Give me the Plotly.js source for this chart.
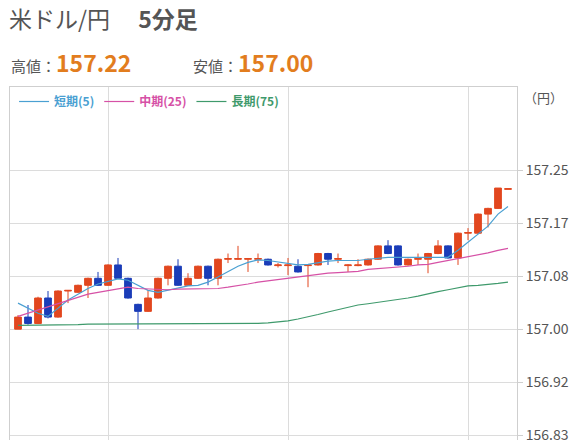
<!DOCTYPE html>
<html><head><meta charset="utf-8">
<script src="https://cdn.plot.ly/plotly-3.0.1.min.js"></script>
<style>html,body{margin:0;padding:0;overflow:hidden;background:#fff}#c{width:576px;height:470px}</style>
</head><body><div id="c"></div>
<script>
const openP = [157.000,157.019,157.009,157.049,157.019,157.060,157.058,157.069,157.080,157.069,
157.101,157.080,157.039,157.028,157.049,157.080,157.099,157.069,157.080,157.099,
157.080,157.110,157.110,157.110,157.110,157.110,157.100,157.100,157.099,157.100,
157.101,157.119,157.110,157.100,157.100,157.101,157.110,157.131,157.131,157.101,
157.110,157.110,157.119,157.131,157.112,157.151,157.151,157.181,157.190,157.220];
const highP = [157.022,157.038,157.051,157.060,157.061,157.061,157.070,157.081,157.090,157.102,
157.112,157.081,157.040,157.061,157.081,157.100,157.110,157.088,157.100,157.100,
157.111,157.119,157.131,157.112,157.119,157.111,157.104,157.112,157.110,157.102,
157.120,157.120,157.119,157.102,157.110,157.111,157.132,157.140,157.132,157.111,
157.119,157.120,157.140,157.132,157.152,157.159,157.182,157.191,157.222,157.221];
const lowP = [157.000,157.007,157.008,157.017,157.018,157.041,157.057,157.049,157.068,157.068,
157.079,157.048,157.000,157.027,157.048,157.069,157.068,157.068,157.079,157.069,
157.069,157.104,157.109,157.090,157.104,157.100,157.097,157.085,157.089,157.066,
157.100,157.101,157.104,157.090,157.099,157.100,157.109,157.118,157.100,157.100,
157.101,157.088,157.118,157.111,157.101,157.140,157.150,157.160,157.189,157.220];
const closeP = [157.019,157.009,157.049,157.019,157.060,157.061,157.069,157.080,157.069,157.101,
157.080,157.049,157.028,157.049,157.080,157.099,157.069,157.080,157.099,157.080,
157.110,157.111,157.111,157.111,157.111,157.101,157.101,157.101,157.090,157.101,
157.119,157.110,157.111,157.101,157.101,157.110,157.131,157.119,157.101,157.110,
157.111,157.119,157.131,157.112,157.151,157.152,157.181,157.190,157.222,157.221];
const maShort = [157.041,157.033,157.025,157.020,157.033,157.046,157.055,157.064,157.071,157.075,
157.079,157.077,157.069,157.061,157.058,157.061,157.064,157.068,157.069,157.074,
157.082,157.091,157.099,157.105,157.109,157.108,157.106,157.104,157.101,157.102,
157.105,157.107,157.108,157.108,157.108,157.110,157.112,157.113,157.113,157.113,
157.112,157.112,157.112,157.113,157.124,157.137,157.149,157.162,157.181,157.193];
const maMid = [157.020,157.025,157.030,157.035,157.041,157.046,157.050,157.055,157.058,157.061,
157.064,157.066,157.064,157.063,157.062,157.062,157.063,157.063,157.063,157.063,
157.064,157.066,157.068,157.071,157.074,157.076,157.079,157.080,157.083,157.085,
157.086,157.088,157.089,157.090,157.091,157.094,157.095,157.097,157.097,157.099,
157.101,157.102,157.105,157.108,157.110,157.113,157.116,157.120,157.124,157.127];
const maLong = [157.006,157.006,157.006,157.006,157.006,157.007,157.007,157.008,157.008,157.009,
157.009,157.009,157.008,157.008,157.008,157.008,157.008,157.008,157.008,157.008,
157.008,157.008,157.009,157.009,157.009,157.010,157.011,157.013,157.016,157.019,
157.023,157.027,157.031,157.035,157.038,157.040,157.042,157.044,157.046,157.049,
157.052,157.056,157.059,157.062,157.065,157.068,157.069,157.070,157.072,157.074];
const seriesNames = ["短期(5)", "中期(25)", "長期(75)"];
const tickVals = [156.8333, 156.9167, 157.0, 157.0833, 157.1667, 157.25];
const tickText = ["156.83", "156.92", "157.00", "157.08", "157.17", "157.25"];
const highLabel = "157.22";
const lowLabel = "157.00";

const xs = openP.map((_, i) => i + 1);
const F = '"Noto Sans CJK JP", "Noto Sans", sans-serif';
const cShort = '#4aa0d2', cMid = '#d651a6', cLong = '#3f9a6c';

const data = [
  {type:'candlestick', x:xs, open:openP, high:highP, low:lowP, close:closeP,
   increasing:{line:{color:'#e2471f', width:1}, fillcolor:'#e2471f'},
   decreasing:{line:{color:'#1b3db8', width:1}, fillcolor:'#1b3db8'},
   whiskerwidth:0, showlegend:false, hoverinfo:'skip'},
  {type:'scatter', mode:'lines', x:xs, y:maShort, line:{color:cShort, width:1.2},
   name:'<span style="color:'+cShort+'">'+seriesNames[0]+'</span>'},
  {type:'scatter', mode:'lines', x:xs, y:maMid, line:{color:cMid, width:1.2},
   name:'<span style="color:'+cMid+'">'+seriesNames[1]+'</span>'},
  {type:'scatter', mode:'lines', x:xs, y:maLong, line:{color:cLong, width:1.2},
   name:'<span style="color:'+cLong+'">'+seriesNames[2]+'</span>'}
];

const layout = {
  width:576, height:470,
  margin:{l:10, r:59, t:87, b:15},
  paper_bgcolor:'#fff', plot_bgcolor:'#fff',
  font:{family:F, color:'#555'},
  boxgap:0.25, boxgroupgap:0.1,
  title:{text:'米ドル/円　 <b>5分足</b>', x:9/576, xanchor:'left', xref:'container',
         y:1-20/470, yanchor:'middle', yref:'container',
         font:{family:F, size:23, color:'#555'}},
  showlegend:true,
  legend:{orientation:'h', x:0.008, xanchor:'left', y:1, yanchor:'top',
          bgcolor:'rgba(255,255,255,0)', font:{family:F, size:12, weight:'bold'},
          tracegroupgap:0, itemwidth:30},
  xaxis:{range:[0.2, 50.9], tickvals:[10, 28, 46], showticklabels:false, ticks:'',
         showgrid:true, gridcolor:'#dcdcdc', gridwidth:1, zeroline:false,
         showline:true, linecolor:'#cfcfcf', linewidth:1, mirror:true,
         rangeslider:{visible:false}, fixedrange:true},
  yaxis:{range:[156.802, 157.381], side:'right', tickvals:tickVals, ticktext:tickText,
         ticks:'outside', ticklen:5, tickcolor:'#cfcfcf',
         tickfont:{family:F, size:14, color:'#555'},
         showgrid:true, gridcolor:'#dcdcdc', gridwidth:1, zeroline:false,
         showline:true, linecolor:'#cfcfcf', linewidth:1, mirror:true, fixedrange:true},
  annotations:[
    {xref:'paper', yref:'paper', x:(9-10)/507, y:1+(87-62)/368, xanchor:'left', yanchor:'middle',
     showarrow:false, font:{family:F, size:15, color:'#555'},
     text:'高値：<span style="font-size:23px;color:#e27d1e;font-weight:bold">'+highLabel+'</span>'},
    {xref:'paper', yref:'paper', x:(191-10)/507, y:1+(87-62)/368, xanchor:'left', yanchor:'middle',
     showarrow:false, font:{family:F, size:15, color:'#555'},
     text:'安値：<span style="font-size:23px;color:#e27d1e;font-weight:bold">'+lowLabel+'</span>'},
    {xref:'paper', yref:'paper', x:(543-10)/507, y:1-(97-87)/368, xanchor:'center', yanchor:'middle',
     showarrow:false, font:{family:F, size:13, color:'#555'}, text:'（円）'}
  ]
};
Plotly.newPlot('c', data, layout, {displayModeBar:false, staticPlot:true});
</script></body></html>
